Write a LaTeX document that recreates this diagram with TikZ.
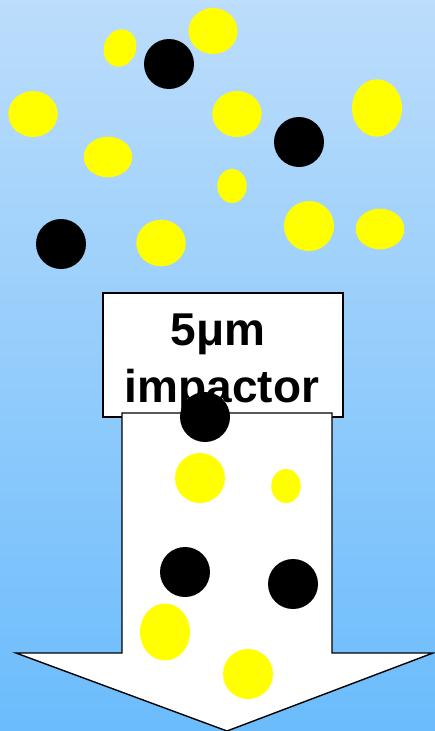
\documentclass[tikz,border=0pt]{standalone}
\usepackage{fontspec}
\setmainfont{Liberation Sans}
\definecolor{bgtop}{RGB}{188,221,251}
\definecolor{bgbot}{RGB}{107,188,252}
\definecolor{pyel}{RGB}{255,255,0}
\tikzset{
  yel/.style={fill=pyel, draw=none},
  blk/.style={fill=black, draw=none},
  outline/.style={draw=black, line width=1.4pt, fill=white, line join=miter},
  lbl/.style={font=\bfseries\fontsize{46}{55}\selectfont, anchor=base, inner sep=0pt}
}
\begin{document}
\begin{tikzpicture}[x=1pt,y=-1pt]
\shade[top color=bgtop, bottom color=bgbot] (0,0) rectangle (435,731);
\useasboundingbox (0,0) rectangle (435,731);
% box
\node[outline, minimum width=240pt, minimum height=124pt, inner sep=0pt] (box) at (223,355) {};
\node[lbl] (t1) at (218,345) {5μm};
\node[lbl] (t2) at (222,402) {impactor};
% arrow
\draw[outline] (122,413) -- (332,413) -- (332,653) -- (433,653) -- (227,731) -- (16,653) -- (122,653) -- cycle;
% top particles
\fill[yel, rotate around={-20:(120,48)}] (120,48) ellipse [x radius=16, y radius=19];
\fill[blk] (169,64) circle (25);
\fill[yel] (213,31) ellipse [x radius=24.5, y radius=23];
\fill[yel] (33,114) ellipse [x radius=24.7, y radius=23];
\fill[yel] (237,114) ellipse [x radius=24.7, y radius=23];
\fill[yel] (377,108) ellipse [x radius=25, y radius=28.7];
\fill[blk] (299,142) circle (25);
\fill[yel] (108,157) ellipse [x radius=24.3, y radius=20.3];
\fill[yel] (232,186) ellipse [x radius=14.7, y radius=17];
\fill[blk] (61,244) circle (25);
\fill[yel] (161,243) ellipse [x radius=24.7, y radius=23.3];
\fill[yel] (309,226) circle (25);
\fill[yel] (380,229) ellipse [x radius=24.3, y radius=20.3];
% particles in arrow
\fill[blk] (205,417) circle (25);
\fill[yel] (200,478) circle (25);
\fill[yel] (286,486) ellipse [x radius=14.7, y radius=17];
\fill[blk] (185,572) circle (25);
\fill[blk] (293,584) circle (25);
\fill[yel] (165,632) ellipse [x radius=25, y radius=28.5];
\fill[yel] (248,674) circle (25);
\end{tikzpicture}
\end{document}
